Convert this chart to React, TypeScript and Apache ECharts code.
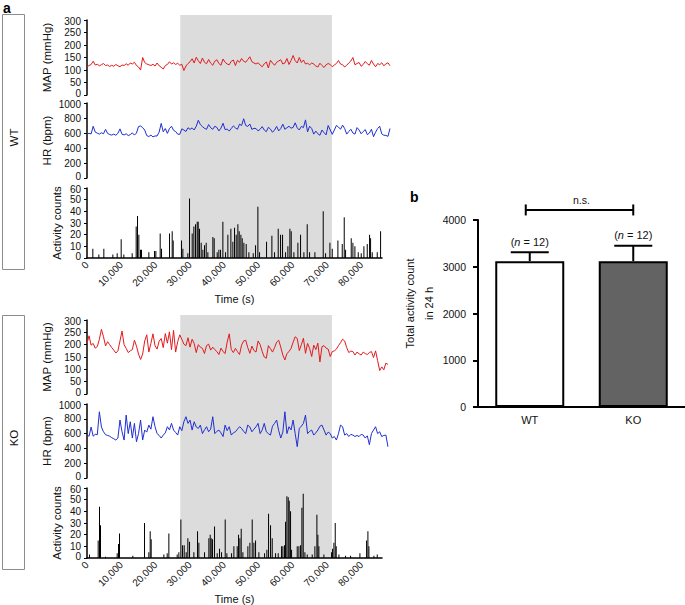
import React, { useEffect, useRef } from "react";
import * as echarts from "echarts";

// ---------- data ----------
const STEP_S = 600; // sampling interval of the traces (s)
const LINE_X_MAX = 88200;
const ACT_X_MAX = 86000;
const X_TICK = 10000;
const DARK_START = 27200;
const DARK_END = 71400;

const WT_MAP = [
  112, 118, 122, 135, 120, 123, 117, 121, 126, 118,
  120, 114, 119, 115, 122, 117, 113, 120, 118, 125,
  119, 128, 124, 131, 118, 112, 100, 150, 130, 124,
  121, 118, 123, 116, 128, 117, 111, 104, 118, 122,
  133, 124, 129, 122, 127, 119, 123, 98, 116, 126,
  133, 145, 128, 151, 137, 126, 148, 131, 125, 142,
  127, 119, 135, 141, 126, 119, 144, 131, 124, 121,
  135, 140, 118, 139, 131, 146, 135, 131, 142, 153,
  133, 128, 124, 129, 120, 113, 125, 132, 108, 139,
  128, 119, 131, 136, 141, 124, 128, 146, 122, 138,
  158, 137, 128, 150, 130, 140, 124, 127, 121, 128,
  124, 116, 112, 127, 118, 110, 121, 126, 122, 113,
  120, 126, 138, 124, 121, 112, 119, 128, 136, 150,
  121, 126, 130, 115, 122, 134, 125, 119, 138, 124,
  113, 126, 121, 129, 117, 124, 129, 117,
];

const WT_HR = [
  585, 596, 588, 690, 612, 598, 585, 603, 590, 648,
  594, 580, 572, 585, 570, 596, 655, 583, 575, 589,
  566, 578, 602, 572, 600, 686, 694, 672, 640, 565,
  553, 572, 548, 561, 560, 612, 728, 615, 660, 595,
  658, 690, 636, 620, 585, 582, 655, 640, 620, 670,
  648, 668, 640, 690, 770, 712, 685, 662, 650, 712,
  670, 650, 690, 675, 628, 665, 730, 645, 652, 626,
  660, 695, 668, 650, 718, 700, 790, 700, 688, 720,
  648, 662, 660, 628, 650, 685, 640, 618, 676, 652,
  610, 640, 688, 628, 660, 718, 650, 670, 690, 664,
  675, 736, 668, 640, 688, 672, 775, 615, 690, 660,
  585, 625, 590, 570, 640, 605, 575, 700, 640, 582,
  640, 700, 680, 650, 705, 660, 585, 620, 650, 600,
  585, 672, 640, 590, 620, 645, 578, 600, 650, 551,
  610, 660, 690, 588, 570, 568, 555, 660,
];

const KO_MAP = [
  205, 236, 198, 205, 186, 192, 222, 262, 232, 195,
  212, 200, 188, 178, 166, 175, 215, 255, 200, 185,
  168, 175, 180, 218, 194, 162, 140, 162, 215, 240,
  170, 205, 244, 196, 182, 214, 225, 188, 245, 206,
  252, 180, 258, 170, 212, 240, 222, 202, 196, 228,
  190, 222, 205, 168, 200, 190, 185, 164, 196, 202,
  178, 190, 180, 172, 160, 186, 172, 164, 210, 244,
  180, 168, 185, 172, 160, 198, 215, 218, 188, 165,
  194, 176, 170, 215, 200, 172, 150, 145, 196, 184,
  170, 188, 210, 218, 190, 158, 138, 164, 172, 185,
  210, 232, 225, 176, 200, 226, 165, 205, 185, 152,
  198, 180, 206, 130, 192, 196, 186, 182, 152, 172,
  175, 182, 196, 208, 222, 215, 188, 168, 174, 172,
  158, 170, 163, 158, 170, 164, 160, 168, 172, 148,
  175, 135, 95, 110, 98, 125, 120,
];

const KO_HR = [
  580, 565, 688, 565, 590, 585, 895, 688, 625, 585,
  575, 565, 545, 530, 513, 540, 783, 625, 513, 850,
  600, 760, 540, 738, 490, 600, 783, 513, 648, 620,
  715, 660, 828, 693, 600, 575, 540, 580, 610, 693,
  650, 738, 648, 615, 580, 693, 640, 760, 828, 738,
  783, 648, 760, 690, 670, 715, 600, 650, 693, 625,
  660, 828, 600, 630, 648, 610, 560, 715, 640, 693,
  580, 610, 625, 660, 693, 670, 630, 600, 715, 690,
  625, 660, 693, 738, 600, 650, 738, 625, 600, 580,
  700, 738, 783, 640, 540, 620, 895, 600, 693, 650,
  783, 600, 423, 670, 700, 738, 850, 600, 630, 648,
  580, 610, 648, 700, 715, 648, 580, 620, 600, 540,
  560, 513, 600, 715, 693, 580, 600, 560, 590, 580,
  560, 575, 560, 590, 580, 540, 570, 450, 600, 648,
  693, 600, 625, 560, 575, 580, 423,
];

// [time (s), activity count]
const WT_ACT: [number, number][] = [
  [1701, 8], [3451, 3], [4909, 8], [7533, 3], [8797, 4], [9963, 16], [10741, 3],
  [13171, 4], [14337, 27], [14726, 36], [15115, 20], [15601, 7], [15893, 7],
  [18031, 5], [19683, 6], [20072, 6], [21336, 21], [21725, 8], [24057, 21],
  [24835, 23], [25127, 15], [27557, 15], [27945, 8], [29403, 4], [29889, 51],
  [30667, 21], [31153, 27], [31639, 29], [32125, 31], [32417, 31], [32805, 25],
  [33291, 13], [33777, 7], [34263, 11], [34749, 13], [35235, 5], [36693, 18],
  [37082, 17], [37957, 5], [38443, 7], [38929, 7], [39609, 31], [40387, 5],
  [41067, 20], [41942, 25], [42525, 14], [43011, 26], [43497, 20], [43983, 29],
  [44372, 23], [44858, 20], [45247, 17], [45733, 13], [46413, 12], [47191, 5],
  [48455, 4], [49135, 11], [49815, 44], [50301, 5], [52343, 14], [53898, 19],
  [54676, 5], [55745, 25], [56425, 20], [57008, 20], [57883, 5], [58563, 10],
  [59147, 25], [59535, 23], [60313, 5], [61479, 13], [62257, 20], [63229, 5],
  [64201, 29], [64881, 5], [66437, 5], [68867, 40], [69547, 4], [70811, 13],
  [71491, 8], [73143, 15], [74407, 12], [74990, 35], [75379, 7], [77031, 17],
  [77517, 13], [78101, 10], [79073, 5], [79947, 4], [80725, 10], [81697, 12],
  [82377, 20], [82669, 17], [83155, 5], [84613, 5], [85585, 23],
];

const KO_ACT: [number, number][] = [
  [729, 3], [3257, 15], [3645, 44], [3937, 28], [5395, 1], [8797, 4], [9186, 12],
  [9477, 21], [13365, 2], [16767, 30], [18031, 5], [18420, 23], [18711, 16],
  [22405, 3], [23377, 4], [23863, 21], [26293, 3], [26779, 5], [27362, 33],
  [27849, 11], [28335, 11], [28917, 5], [29403, 17], [29889, 14], [31153, 5],
  [32222, 23], [32611, 13], [34263, 5], [35527, 17], [35916, 20], [36207, 17],
  [36596, 16], [37179, 27], [37957, 4], [38637, 8], [39221, 5], [40290, 33],
  [40777, 4], [42137, 4], [42817, 10], [43789, 10], [44178, 20], [44567, 17],
  [44955, 25], [45441, 5], [46899, 10], [47483, 13], [48163, 33], [48649, 13],
  [49135, 15], [50107, 5], [51759, 4], [52440, 7], [52926, 38], [53509, 28],
  [53995, 17], [54967, 4], [55745, 4], [56717, 10], [57105, 10], [57591, 11],
  [57883, 31], [58272, 53], [58661, 52], [58952, 49], [59341, 40], [59633, 7],
  [61285, 10], [61771, 10], [62257, 11], [62646, 43], [63035, 55], [63521, 5],
  [64201, 3], [65659, 3], [66437, 10], [67020, 37], [67311, 20], [67603, 10],
  [69061, 3], [71297, 5], [71588, 8], [71977, 13], [72366, 30], [72654, 10],
  [73435, 3], [75379, 2], [76837, 2], [79559, 4], [81503, 15], [81891, 23],
  [82183, 10], [83641, 2], [84613, 3],
];

const GROUPS = ["WT", "KO"];
const TOTAL_MEAN = [3120, 3120];
const TOTAL_SEM = [190, 330];
const N_ANIMALS = [12, 12];
const SIG_LABEL = "n.s.";
const SIG_LEVEL = 4215;

// ---------- styling ----------
const FONT = "'Liberation Sans', Arial, Helvetica, sans-serif";
const RED = "#e31a1c";
const BLUE = "#1f2fd0";
const SHADE = "#dcdcdc";
const BAR_FILLS = ["#ffffff", "#636363"];

const PANELS = [
  { label: "WT", map: WT_MAP, hr: WT_HR, act: WT_ACT, tops: [20, 103, 188], hts: [75, 75, 70], box: [14, 255] },
  { label: "KO", map: KO_MAP, hr: KO_HR, act: KO_ACT, tops: [320, 404, 488], hts: [74, 74, 70], box: [315, 254] },
];

const toSeries = (vals: number[]) => vals.map((v, i) => [i * STEP_S, v]);

function buildOption() {
  const grid: any[] = [];
  const xAxis: any[] = [];
  const yAxis: any[] = [];
  const series: any[] = [];

  const yCommon = (gi: number, max: number, interval: number, name: string, nameGap: number) => ({
    type: "value",
    gridIndex: gi,
    min: 0,
    max,
    interval,
    name,
    nameLocation: "middle",
    nameGap,
    nameTextStyle: { fontFamily: FONT, fontSize: 11.5, color: "#111" },
    axisLine: { show: true, lineStyle: { color: "#000", width: 1.5 } },
    axisTick: { show: true, length: 3, lineStyle: { color: "#000", width: 1 } },
    axisLabel: {
      fontFamily: FONT,
      fontSize: 10,
      lineHeight: 10,
      color: "#111",
      margin: 6,
      formatter: (v: number) => (v === 0 ? "{lo|0}" : v === max ? "{hi|" + v + "}" : String(v)),
      rich: {
        lo: { fontFamily: FONT, fontSize: 10, lineHeight: 10, color: "#111", padding: [0, 0, 3, 0] },
        hi: { fontFamily: FONT, fontSize: 10, lineHeight: 10, color: "#111", padding: [3, 0, 0, 0] },
      },
    },
    splitLine: { show: false },
  });

  PANELS.forEach((p) => {
    const base = grid.length;
    p.tops.forEach((t, k) => {
      grid.push({ left: 87, top: t, height: p.hts[k], width: k === 2 ? 295 : 303 });
    });
    for (let k = 0; k < 2; k++) {
      xAxis.push({ type: "value", gridIndex: base + k, min: 0, max: LINE_X_MAX, show: false });
    }
    xAxis.push({
      type: "value",
      gridIndex: base + 2,
      min: 0,
      max: ACT_X_MAX,
      interval: X_TICK,
      name: "Time (s)",
      nameLocation: "middle",
      nameGap: 35,
      nameTextStyle: { fontFamily: FONT, fontSize: 11, color: "#111" },
      axisLine: { show: true, lineStyle: { color: "#000", width: 1.5 } },
      axisTick: { show: false },
      axisLabel: {
        rotate: 45,
        fontFamily: FONT,
        fontSize: 10,
        color: "#111",
        margin: 5,
        showMaxLabel: false,
        formatter: (v: number) => (v % X_TICK === 0 ? v.toLocaleString("en-US") : ""),
      },
      splitLine: { show: false },
    });
    yAxis.push(yCommon(base, 300, 50, "MAP (mmHg)", 34));
    yAxis.push(yCommon(base + 1, 1000, 200, "HR (bpm)", 34));
    yAxis.push(yCommon(base + 2, 60, 10, "Activity counts", 24));

    series.push({
      type: "line",
      xAxisIndex: base,
      yAxisIndex: base,
      data: toSeries(p.map),
      showSymbol: false,
      lineStyle: { color: RED, width: 1 },
      z: 3,
    });
    series.push({
      type: "line",
      xAxisIndex: base + 1,
      yAxisIndex: base + 1,
      data: toSeries(p.hr),
      showSymbol: false,
      lineStyle: { color: BLUE, width: 1 },
      z: 3,
    });
    series.push({
      type: "bar",
      xAxisIndex: base + 2,
      yAxisIndex: base + 2,
      data: p.act,
      barWidth: 1,
      itemStyle: { color: "#000" },
      z: 3,
    });
  });

  // panel b
  const gb = grid.length;
  grid.push({ left: 478, top: 220, width: 207, height: 187 });
  xAxis.push({
    type: "category",
    gridIndex: gb,
    data: GROUPS,
    axisLine: { show: true, lineStyle: { color: "#000", width: 2 } },
    axisTick: { show: false },
    axisLabel: { fontFamily: FONT, fontSize: 11, color: "#111", margin: 7 },
  });
  yAxis.push({
    type: "value",
    gridIndex: gb,
    min: 0,
    max: 4000,
    interval: 1000,
    name: "Total activity count\nin 24 h",
    nameLocation: "middle",
    nameGap: 37,
    nameTextStyle: { fontFamily: FONT, fontSize: 11, color: "#111", lineHeight: 19, padding: [0, 0, 0, 20] },
    axisLine: { show: true, lineStyle: { color: "#000", width: 2 } },
    axisTick: { show: true, length: 5, lineStyle: { color: "#000", width: 2 } },
    axisLabel: { fontFamily: FONT, fontSize: 10.5, color: "#111", margin: 12, formatter: (v: number) => String(v) },
    splitLine: { show: false },
  });
  series.push({
    type: "bar",
    xAxisIndex: gb,
    yAxisIndex: gb,
    barWidth: 69,
    data: TOTAL_MEAN.map((v, i) => ({
      value: v,
      itemStyle: { color: BAR_FILLS[i], borderColor: "#000", borderWidth: 2 },
    })),
    z: 2,
  });
  series.push({
    type: "custom",
    xAxisIndex: gb,
    yAxisIndex: gb,
    clip: false,
    z: 4,
    encode: { x: 0, y: 1 },
    data: GROUPS.map((g, i) => [i, TOTAL_MEAN[i], TOTAL_SEM[i], N_ANIMALS[i]]),
    renderItem: (params: any, api: any) => {
      const idx = api.value(0);
      const mean = api.value(1);
      const sem = api.value(2);
      const n = api.value(3);
      const b = api.coord([idx, mean]);
      const t = api.coord([idx, mean + sem]);
      const half = 19;
      return {
        type: "group",
        children: [
          { type: "line", shape: { x1: b[0], y1: b[1], x2: t[0], y2: t[1] }, style: { stroke: "#000", lineWidth: 2 } },
          { type: "line", shape: { x1: t[0] - half, y1: t[1], x2: t[0] + half, y2: t[1] }, style: { stroke: "#000", lineWidth: 2 } },
          {
            type: "text",
            x: t[0],
            y: t[1] - 5,
            style: {
              text: "({i|n} = " + n + ")",
              rich: { i: { fontStyle: "italic", fontFamily: FONT, fontSize: 11, fill: "#111" } },
              fontFamily: FONT,
              fontSize: 11,
              fill: "#111",
              align: "center",
              verticalAlign: "bottom",
            },
          },
        ],
      };
    },
  });
  series.push({
    type: "custom",
    xAxisIndex: gb,
    yAxisIndex: gb,
    clip: false,
    z: 4,
    encode: { x: 0, y: 2 },
    data: [[0, GROUPS.length - 1, SIG_LEVEL]],
    renderItem: (params: any, api: any) => {
      const l = api.coord([api.value(0), api.value(2)]);
      const r = api.coord([api.value(1), api.value(2)]);
      const tick = 5.5;
      const st = { stroke: "#000", lineWidth: 2 };
      return {
        type: "group",
        children: [
          { type: "line", shape: { x1: l[0] - 4, y1: l[1], x2: r[0], y2: r[1] }, style: st },
          { type: "line", shape: { x1: l[0] - 4, y1: l[1] - tick, x2: l[0] - 4, y2: l[1] + tick }, style: st },
          { type: "line", shape: { x1: r[0], y1: r[1] - tick, x2: r[0], y2: r[1] + tick }, style: st },
          {
            type: "text",
            x: (l[0] + r[0]) / 2,
            y: l[1] - 4,
            style: { text: SIG_LABEL, fontFamily: FONT, fontSize: 10.5, fill: "#111", align: "center", verticalAlign: "bottom" },
          },
        ],
      };
    },
  });

  return { animation: false, backgroundColor: "#fff", grid, xAxis, yAxis, series };
}

export default function App() {
  const ref = useRef<HTMLDivElement>(null);
  useEffect(() => {
    const chart = echarts.init(ref.current!, null, { renderer: "svg" });
    chart.setOption(buildOption() as any);

    const graphics: any[] = [
      { type: "text", x: 3, y: 1, style: { text: "a", fontFamily: FONT, fontSize: 14, fontWeight: "bold", fill: "#000" } },
      { type: "text", x: 410, y: 190, style: { text: "b", fontFamily: FONT, fontSize: 14, fontWeight: "bold", fill: "#000" } },
    ];
    PANELS.forEach((p, pi) => {
      const base = pi * 3;
      graphics.push({
        type: "rect",
        shape: { x: 2.5, y: p.box[0] + 0.5, width: 22, height: p.box[1] },
        style: { fill: "transparent", stroke: "#8c8c8c", lineWidth: 1 },
      });
      graphics.push({
        type: "text",
        x: 14,
        y: p.box[0] + p.box[1] / 2 - 4,
        rotation: Math.PI / 2,
        style: { text: p.label, fontFamily: FONT, fontSize: 11.5, fill: "#111", align: "center", verticalAlign: "middle" },
      });
      const x0 = chart.convertToPixel({ xAxisIndex: base + 2 } as any, DARK_START) as unknown as number;
      const x1 = chart.convertToPixel({ xAxisIndex: base + 2 } as any, DARK_END) as unknown as number;
      const top = (chart.convertToPixel({ yAxisIndex: base } as any, 300) as unknown as number) - 5;
      const bottom = chart.convertToPixel({ yAxisIndex: base + 2 } as any, 0) as unknown as number;
      graphics.push({
        type: "rect",
        z: -10,
        silent: true,
        shape: { x: x0, y: top, width: x1 - x0, height: bottom - top },
        style: { fill: SHADE },
      });
    });
    chart.setOption({ graphic: graphics } as any);
    return () => chart.dispose();
  }, []);
  return <div ref={ref} style={{ position: "absolute", left: 0, top: 0, width: 685, height: 605 }} />;
}
